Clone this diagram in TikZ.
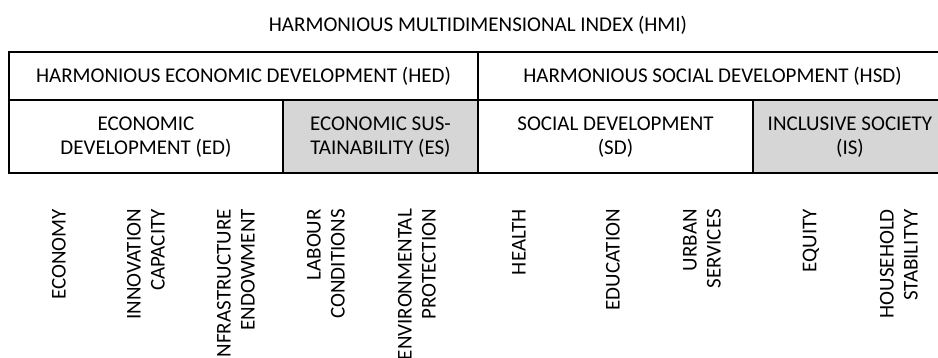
\documentclass[tikz,border=0pt]{standalone}
\usepackage{fontspec}
\setmainfont{Carlito}
\usetikzlibrary{calc}

\begin{document}
\begin{tikzpicture}[x=1pt,y=-1pt,
  txt/.style={font=\fontsize{21}{24}\selectfont,align=center,inner sep=0pt},
  cell/.style={draw,line width=2pt},
  shaded/.style={cell,fill=black!16},
  vlabel/.style={txt,rotate=90,anchor=east,align=right}
  ]
\def\xl{9}
\def\xa{283}
\def\xm{478}
\def\xb{753}
\def\xr{947}
\def\yt{52}
\def\ym{100}
\def\yb{173}
\def\ytop{209}
\useasboundingbox (0,0) rectangle (938,358);
\clip (0,0) rectangle (938,358);
% title
\node[txt] (hmi) at (\xm,25.5) {HARMONIOUS MULTIDIMENSIONAL INDEX (HMI)};
% grey cells
\draw[shaded] (\xa,\ym) rectangle (\xm,\yb);
\draw[shaded] (\xb,\ym) rectangle (\xr,\yb);
% table
\draw[cell] (\xl,\yt) rectangle (\xr,\yb);
\draw[cell] (\xl,\ym) -- (\xr,\ym);
\draw[cell] (\xm,\yt) -- (\xm,\yb);
\draw[cell] (\xa,\ym) -- (\xa,\yb);
\draw[cell] (\xb,\ym) -- (\xb,\yb);
% cell texts
\node[txt] (hed) at ({(\xl+\xm)/2},76) {HARMONIOUS ECONOMIC DEVELOPMENT (HED)};
\node[txt] (hsd) at ({(\xm+\xr)/2},76) {HARMONIOUS SOCIAL DEVELOPMENT (HSD)};
\node[txt] (ed) at ({(\xl+\xa)/2},137) {ECONOMIC\\DEVELOPMENT (ED)};
\node[txt] (es) at ({(\xa+\xm)/2},137) {ECONOMIC SUS-\\TAINABILITY (ES)};
\node[txt] (sd) at ({(\xm+\xb)/2},137) {SOCIAL DEVELOPMENT\\(SD)};
\node[txt] (is) at ({(\xb+\xr)/2},137) {INCLUSIVE SOCIETY\\(IS)};
% indicators
\node[vlabel] (economy) at (59,\ytop) {ECONOMY};
\node[vlabel] (innov) at (146,\ytop) {INNOVATION\\CAPACITY};
\node[vlabel] (infra) at (236,\ytop) {INFRASTRUCTURE\\ENDOWMENT};
\node[vlabel] (labour) at (326,\ytop) {LABOUR\\CONDITIONS};
\node[vlabel] (envir) at (417,\ytop) {ENVIRONMENTAL\\PROTECTION};
\node[vlabel] (health) at (519,\ytop) {HEALTH};
\node[vlabel] (educ) at (613,\ytop) {EDUCATION};
\node[vlabel] (urban) at (702,\ytop) {URBAN\\SERVICES};
\node[vlabel] (equity) at (811,\ytop) {EQUITY};
\node[vlabel] (house) at (899,\ytop) {HOUSEHOLD\\STABILITYY};
\end{tikzpicture}
\end{document}
